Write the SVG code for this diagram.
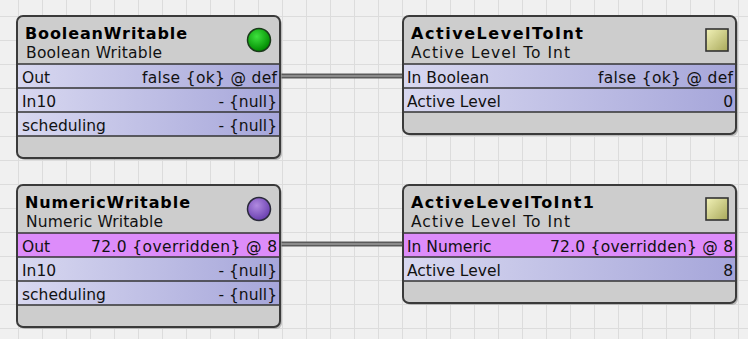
<svg xmlns="http://www.w3.org/2000/svg" width="748" height="339" viewBox="0 0 748 339">
<style>
.title{font-family:"DejaVu Sans",Verdana,sans-serif;font-weight:bold;font-size:16px;fill:#000}
.sub{font-family:"DejaVu Sans",Verdana,sans-serif;font-size:15.5px;fill:#111}
.row{font-family:"DejaVu Sans",Verdana,sans-serif;font-size:15.5px;fill:#111}
.val{font-family:"DejaVu Sans",Verdana,sans-serif;font-size:15.5px;fill:#111;text-anchor:end}
.body{fill:#cdcdcd}
.slot{fill:url(#lav)}
.pink{fill:#dd8cfa}
.sep{stroke:#333;stroke-width:1.6}
.frame{fill:none;stroke:#3a3a3a;stroke-width:2}
.shadow{fill:#9a9a9a;opacity:0.6}
.wo{stroke:#5a5a5a;stroke-width:5;fill:none}
.wi{stroke:#9c9c9c;stroke-width:1.6;fill:none}
</style>
<defs>
<pattern id="grid" patternUnits="userSpaceOnUse" x="18" y="16" width="24" height="24">
<rect width="24" height="24" fill="#f0f0f0"/>
<path d="M0 0H24M0 0V24" stroke="#dcdcdc" stroke-width="2"/>
</pattern>
<linearGradient id="lav" x1="0" y1="0" x2="1" y2="0">
<stop offset="0" stop-color="#d8d8f0"/>
<stop offset="1" stop-color="#a6a6da"/>
</linearGradient>
<radialGradient id="green" cx="0.4" cy="0.35" r="0.65">
<stop offset="0" stop-color="#3ee23e"/>
<stop offset="1" stop-color="#008a00"/>
</radialGradient>
<radialGradient id="purple" cx="0.4" cy="0.35" r="0.65">
<stop offset="0" stop-color="#b08ae0"/>
<stop offset="1" stop-color="#6a40b0"/>
</radialGradient>
<linearGradient id="khaki" x1="0" y1="0" x2="1" y2="1">
<stop offset="0" stop-color="#f2f2b8"/>
<stop offset="1" stop-color="#a8a85a"/>
</linearGradient>
</defs>
<rect width="748" height="339" fill="url(#grid)"/>

<g id="connectors">
<path class="wo" d="M281 76H403"/>
<path class="wi" d="M281 76H403"/>
<path class="wo" d="M281 244H403"/>
<path class="wi" d="M281 244H403"/>
</g>

<g id="BooleanWritable">
<rect class="shadow" x="19" y="18" width="263" height="142" rx="6"/>
<rect class="body" x="17" y="16" width="263" height="142" rx="6"/>
<rect class="slot" x="17" y="64" width="263" height="72"/>
<line class="sep" x1="17" y1="64" x2="280" y2="64"/>
<line class="sep" x1="17" y1="88" x2="280" y2="88"/>
<line class="sep" x1="17" y1="112" x2="280" y2="112"/>
<line class="sep" x1="17" y1="136" x2="280" y2="136"/>
<rect class="frame" x="17" y="16" width="263" height="142" rx="6"/>
<circle cx="259" cy="40" r="11.5" fill="url(#green)" stroke="#1c3a1c" stroke-width="1.5"/>
<text class="title" x="25" y="39" textLength="162" lengthAdjust="spacing">BooleanWritable</text>
<text class="sub" x="26" y="58" textLength="136" lengthAdjust="spacing">Boolean Writable</text>
<text class="row" x="22" y="83">Out</text>
<text class="val" x="277" y="83" textLength="135" lengthAdjust="spacing">false {ok} @ def</text>
<text class="row" x="22" y="107">In10</text>
<text class="val" x="277" y="107">- {null}</text>
<text class="row" x="22" y="131">scheduling</text>
<text class="val" x="277" y="131">- {null}</text>
</g>

<g id="ActiveLevelToInt">
<rect class="shadow" x="405" y="18" width="333" height="118" rx="6"/>
<rect class="body" x="403" y="16" width="333" height="118" rx="6"/>
<rect class="slot" x="403" y="64" width="333" height="48"/>
<line class="sep" x1="403" y1="64" x2="736" y2="64"/>
<line class="sep" x1="403" y1="88" x2="736" y2="88"/>
<line class="sep" x1="403" y1="112" x2="736" y2="112"/>
<rect class="frame" x="403" y="16" width="333" height="118" rx="6"/>
<rect x="706" y="29" width="22" height="22" fill="url(#khaki)" stroke="#333" stroke-width="1.6"/>
<text class="title" x="411" y="39" textLength="172" lengthAdjust="spacing">ActiveLevelToInt</text>
<text class="sub" x="411" y="58" textLength="159" lengthAdjust="spacing">Active Level To Int</text>
<text class="row" x="407" y="83">In Boolean</text>
<text class="val" x="733" y="83" textLength="135" lengthAdjust="spacing">false {ok} @ def</text>
<text class="row" x="407" y="107">Active Level</text>
<text class="val" x="733" y="107">0</text>
</g>

<g id="NumericWritable">
<rect class="shadow" x="19" y="187" width="263" height="142" rx="6"/>
<rect class="body" x="17" y="185" width="263" height="142" rx="6"/>
<rect class="pink" x="17" y="233" width="263" height="24"/>
<rect class="slot" x="17" y="257" width="263" height="48"/>
<line class="sep" x1="17" y1="233" x2="280" y2="233"/>
<line class="sep" x1="17" y1="257" x2="280" y2="257"/>
<line class="sep" x1="17" y1="281" x2="280" y2="281"/>
<line class="sep" x1="17" y1="305" x2="280" y2="305"/>
<rect class="frame" x="17" y="185" width="263" height="142" rx="6"/>
<circle cx="259" cy="209" r="11.5" fill="url(#purple)" stroke="#2a2a3a" stroke-width="1.5"/>
<text class="title" x="25" y="208" textLength="165" lengthAdjust="spacing">NumericWritable</text>
<text class="sub" x="26" y="227" textLength="137" lengthAdjust="spacing">Numeric Writable</text>
<text class="row" x="22" y="252">Out</text>
<text class="val" x="277" y="252" textLength="186" lengthAdjust="spacing">72.0 {overridden} @ 8</text>
<text class="row" x="22" y="276">In10</text>
<text class="val" x="277" y="276">- {null}</text>
<text class="row" x="22" y="300">scheduling</text>
<text class="val" x="277" y="300">- {null}</text>
</g>

<g id="ActiveLevelToInt1">
<rect class="shadow" x="405" y="187" width="333" height="118" rx="6"/>
<rect class="body" x="403" y="185" width="333" height="118" rx="6"/>
<rect class="pink" x="403" y="233" width="333" height="24"/>
<rect class="slot" x="403" y="257" width="333" height="24"/>
<line class="sep" x1="403" y1="233" x2="736" y2="233"/>
<line class="sep" x1="403" y1="257" x2="736" y2="257"/>
<line class="sep" x1="403" y1="281" x2="736" y2="281"/>
<rect class="frame" x="403" y="185" width="333" height="118" rx="6"/>
<rect x="706" y="198" width="22" height="22" fill="url(#khaki)" stroke="#333" stroke-width="1.6"/>
<text class="title" x="411" y="208" textLength="183" lengthAdjust="spacing">ActiveLevelToInt1</text>
<text class="sub" x="411" y="227" textLength="159" lengthAdjust="spacing">Active Level To Int</text>
<text class="row" x="407" y="252">In Numeric</text>
<text class="val" x="733" y="252" textLength="183" lengthAdjust="spacing">72.0 {overridden} @ 8</text>
<text class="row" x="407" y="276">Active Level</text>
<text class="val" x="733" y="276">8</text>
</g>
</svg>
